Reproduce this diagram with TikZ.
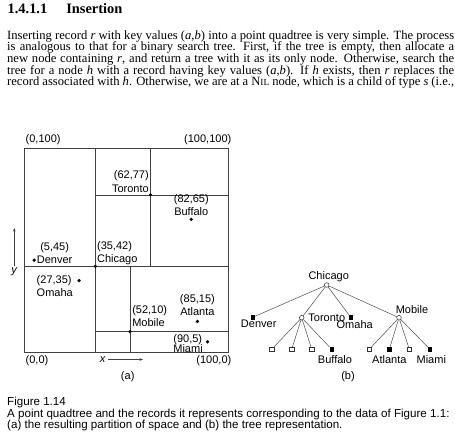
\documentclass[tikz,border=0pt]{standalone}
\usepackage{fontspec}
\setmainfont{Liberation Serif}
\setsansfont{Liberation Sans}
\usetikzlibrary{arrows.meta,positioning}

\newcommand{\bodyline}[1]{\hbox to 447pt{#1}}
\newcommand{\nilname}{N{\fontsize{9.3pt}{9.3pt}\selectfont IL}}

\begin{document}
\begin{tikzpicture}[x=1pt, y=-1pt,
	every node/.style={font=\sffamily\fontsize{11pt}{13.3pt}\selectfont, inner sep=0pt},
	>={Stealth[length=3.5pt, width=2.6pt]},
	mapline/.style={draw=black!75, line width=0.6pt},
	citylbl/.style={inner sep=1.5pt},
	bodytext/.style={font=\rmfamily\fontsize{12.6pt}{11.67pt}\selectfont},
	treeedge/.style={draw=black!70, line width=0.5pt},
	qnode/.style={circle, draw=black!80, fill=white, line width=0.5pt, minimum size=4.6pt},
	leafbox/.style={rectangle, fill=black, minimum size=4.4pt},
	nilbox/.style={rectangle, draw=black!80, fill=white, line width=0.5pt, minimum size=4.2pt}]
	\useasboundingbox (0,0) rectangle (455,434);
	% heading and running text
	\node[anchor=base west, font=\rmfamily\bfseries\fontsize{14.4pt}{17pt}\selectfont] (heading) at (7.5,13.8) {1.4.1.1\hspace{19pt}Insertion};
	\node[bodytext, anchor=base west] (para) at (7,39) {\vtop{\baselineskip=11.67pt\lineskiplimit=-20pt
	\bodyline{Inserting record \textit{r} with key values (\textit{a},\textit{b}) into a point quadtree is very simple. The process}
	\bodyline{is analogous to that for a binary search tree. First, if the tree is empty, then allocate a}
	\bodyline{new node containing \textit{r}, and return a tree with it as its only node. Otherwise, search the}
	\bodyline{tree for a node \textit{h} with a record having key values (\textit{a},\textit{b}). If \textit{h} exists, then \textit{r} replaces the}
	\bodyline{record associated with \textit{h}. Otherwise, we are at a \nilname{} node, which is a child of type \textit{s} (i.e.,}}};
	% (a) partition of space
	\begin{scope}[shift={(24,352)}, x=2.04pt, y=2.04pt]
		\coordinate (sw) at (0,0);
		\coordinate (ne) at (100,100);
		\coordinate (nw) at (0,100);
		\coordinate (se) at (100,0);
		\coordinate (chicago) at (35,42);
		\coordinate (toronto) at (62,77);
		\coordinate (mobile) at (52,10);
		\coordinate (denver) at (5,45);
		\coordinate (omaha) at (27,35);
		\coordinate (buffalo) at (82,65);
		\coordinate (atlanta) at (85,15);
		\coordinate (miami) at (90,5);
		\draw[mapline] (sw) rectangle (ne);
		\draw[mapline] (chicago |- sw) -- (chicago |- ne);
		\draw[mapline] (chicago -| sw) -- (chicago -| ne);
		\draw[mapline] (toronto |- chicago) -- (toronto |- ne);
		\draw[mapline] (toronto -| chicago) -- (toronto -| ne);
		\draw[mapline] (mobile |- sw) -- (mobile |- chicago);
		\draw[mapline] (mobile -| chicago) -- (mobile -| ne);
		\foreach \c in {chicago,toronto,mobile,denver,omaha,buffalo,atlanta,miami}
			\fill (\c) circle (1.8pt);
	\end{scope}
	\node[citylbl, anchor=south west] (nwlbl) at ([yshift=1.5pt]nw) {(0,100)};
	\node[citylbl, anchor=south east] (nelbl) at ([xshift=5pt, yshift=1.5pt]ne) {(100,100)};
	\node[citylbl, anchor=north west] (swlbl) at ([yshift=-1.5pt]sw) {(0,0)};
	\node[citylbl, anchor=north east] (selbl) at ([xshift=5pt, yshift=-1.5pt]se) {(100,0)};
	\node[citylbl, anchor=south east, align=right] (torontolbl) at ([yshift=1pt]toronto) {(62,77)\\Toronto};
	\node[citylbl, anchor=south west, align=left] (chicagolbl) at (chicago) {(35,42)\\Chicago};
	\node[citylbl, anchor=south, align=center] (buffalolbl) at ([yshift=2pt]buffalo) {(82,65)\\Buffalo};
	\node[citylbl, anchor=south west, align=left, inner sep=2pt] (mobilelbl) at ([yshift=2.5pt]mobile) {(52,10)\\Mobile};
	\node[citylbl, anchor=south, align=center] (atlantalbl) at ([yshift=4pt]atlanta) {(85,15)\\Atlanta};
	\node[citylbl, anchor=west] (denvername) at ([xshift=1pt]denver) {Denver};
	\node[citylbl, anchor=base] (denverxy) at ([yshift=13.3pt]denvername.base) {(5,45)};
	\node[citylbl, anchor=east] (omahaxy) at ([xshift=-5.8pt]omaha) {(27,35)};
	\node[citylbl, anchor=base west] (omahaname) at ([yshift=-13.3pt]omahaxy.base west) {Omaha};
	\node[anchor=east] (miamixy) at ([xshift=-5.3pt, yshift=2.6pt]miami) {(90,5)};
	\node[anchor=base west] (miaminame) at ([yshift=-10.3pt]miamixy.base west) {Miami};
	\node[inner sep=2.5pt] (xlbl) at (102.7,359.5) {\textit{x}};
	\coordinate (xtip) at (143,359.5);
	\draw[->, mapline] (xlbl) -- (xtip);
	\node[inner sep=2pt] (ylbl) at (14.3,272) {\textit{y}};
	\coordinate (ytip) at (14.3,228);
	\draw[->, mapline] (ylbl) -- (ytip);
	\node (sublbla) at (127.7,377) {(a)};
	% (b) tree
	\node[qnode, label={[xshift=2pt]above:Chicago}] (chicagoT) at (326.7,285) {};
	\node[leafbox, label={[xshift=6pt]below:Denver}] (denverT) at (252.7,317.3) {};
	\node[qnode, label={[label distance=4pt]right:Toronto}] (torontoT) at (301.7,317.7) {};
	\node[leafbox, label={[xshift=4pt, label distance=0.5pt]below:Omaha}] (omahaT) at (350.7,317.3) {};
	\node[qnode, label={[xshift=13pt, label distance=1pt]above:Mobile}] (mobileT) at (399,317.7) {};
	\node[nilbox] (tnw) at (271.7,349.3) {};
	\node[nilbox] (tne) at (291.7,349.3) {};
	\node[nilbox] (tsw) at (311.7,349.3) {};
	\node[leafbox, label={[xshift=3.3pt, label distance=3.5pt]below:Buffalo}] (buffaloT) at (331.7,349.3) {};
	\node[nilbox] (mnw) at (369.3,349.3) {};
	\node[leafbox, label={[label distance=3.5pt]below:Atlanta}] (atlantaT) at (389.3,349.3) {};
	\node[nilbox] (msw) at (409.3,349.3) {};
	\node[leafbox, label={[xshift=1.3pt, label distance=3.5pt]below:Miami}] (miamiT) at (430,349.3) {};
	\foreach \c in {denverT,torontoT,omahaT,mobileT}
		\draw[treeedge] (chicagoT) -- (\c);
	\foreach \c in {tnw,tne,tsw,buffaloT}
		\draw[treeedge] (torontoT) -- (\c);
	\foreach \c in {mnw,atlantaT,msw,miamiT}
		\draw[treeedge] (mobileT) -- (\c);
	\node (sublblb) at (348,377) {(b)};
	% caption
	\node[anchor=base west, font=\sffamily\fontsize{11.6pt}{11.6pt}\selectfont] (caption) at (7,405.5) {\vtop{\baselineskip=11.6pt
	\hbox{Figure 1.14}
	\hbox{A point quadtree and the records it represents corresponding to the data of Figure 1.1:}
	\hbox{(a) the resulting partition of space and (b) the tree representation.}}};
\end{tikzpicture}
\end{document}
